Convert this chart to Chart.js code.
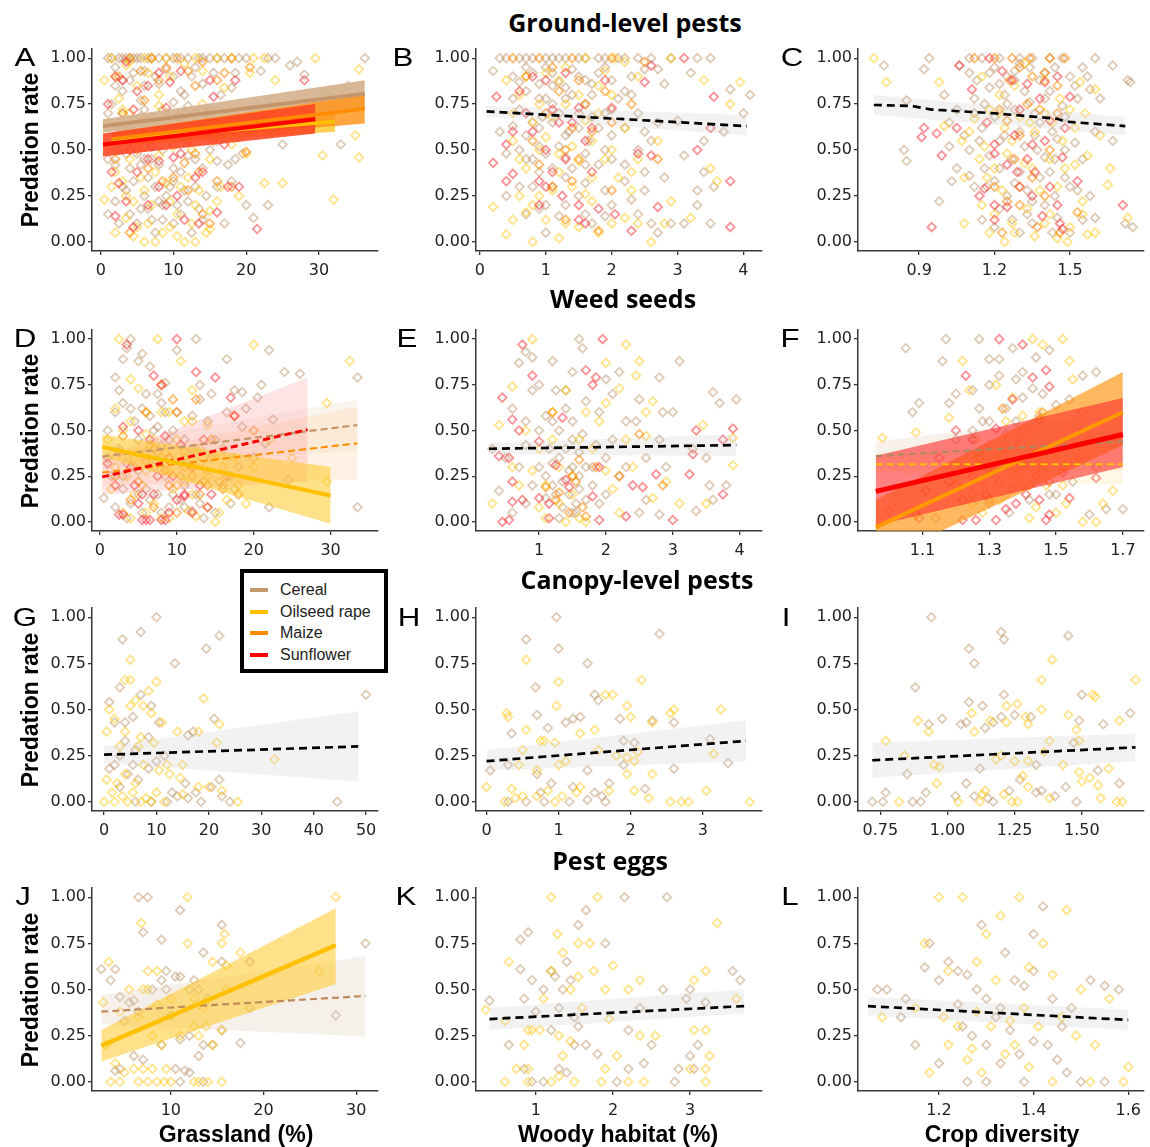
<!DOCTYPE html>
<html><head><meta charset="utf-8">
<script src="https://cdn.jsdelivr.net/npm/chart.js@4.4.1/dist/chart.umd.min.js"></script>
<style>
body{margin:0;width:1150px;height:1147px;position:relative;overflow:hidden;background:#fff;font-family:"Liberation Sans",Arial,sans-serif}
.t{position:absolute;white-space:nowrap;transform:translate(-50%,-50%);color:#000}
.row{font-family:"Open Sans",sans-serif;font-weight:700;font-size:25px}
.lab{font-size:25px;transform:translate(-50%,-50%) scaleX(1.25)}
.yt{font-weight:700;font-size:23px;transform:translate(-50%,-50%) rotate(-90deg)}
.xt{font-weight:700;font-size:23px}
canvas{position:absolute}
#leg{position:absolute;left:240px;top:569px;width:140px;height:96px;border:4px solid #000;background:#fff;z-index:5}
#leg div{position:absolute;left:36px;font-size:16px;color:#222;transform:translateY(-50%)}
#leg span{position:absolute;left:6px;width:18px;height:4px}
</style></head><body>
<script>
// ---------- DATA ----------
const yTicks = [0, 0.25, 0.5, 0.75, 1];
const yTickLabels = ["0.00", "0.25", "0.50", "0.75", "1.00"];
const crops = ["Cereal", "Oilseed rape", "Maize", "Sunflower"];

const xTicksA = [0, 10, 20, 30], xLabelsA = ["0", "10", "20", "30"];
const xTicksB = [0, 1, 2, 3, 4], xLabelsB = ["0", "1", "2", "3", "4"];
const xTicksC = [0.9, 1.2, 1.5], xLabelsC = ["0.9", "1.2", "1.5"];
const xTicksD = [0, 10, 20, 30], xLabelsD = ["0", "10", "20", "30"];
const xTicksE = [1, 2, 3, 4], xLabelsE = ["1", "2", "3", "4"];
const xTicksF = [1.1, 1.3, 1.5, 1.7], xLabelsF = ["1.1", "1.3", "1.5", "1.7"];
const xTicksG = [0, 10, 20, 30, 40, 50], xLabelsG = ["0", "10", "20", "30", "40", "50"];
const xTicksH = [0, 1, 2, 3], xLabelsH = ["0", "1", "2", "3"];
const xTicksI = [0.75, 1, 1.25, 1.5], xLabelsI = ["0.75", "1.00", "1.25", "1.50"];
const xTicksJ = [10, 20, 30], xLabelsJ = ["10", "20", "30"];
const xTicksK = [1, 2, 3], xLabelsK = ["1", "2", "3"];
const xTicksL = [1.2, 1.4, 1.6], xLabelsL = ["1.2", "1.4", "1.6"];

// Panel A: Grassland vs ground-level pests
const A_cereal = [[1,1],[2.5,1],[3.5,1],[4,1],[5,1],[6.5,1],[8,1],[10,1],[12,1],[13.5,1],[15,1],[17,1],[19,1],[23,1],[36.3,1],[2,0.95],[3,0.88],[4.5,0.92],[6,0.85],[7.5,0.9],[9,0.94],[11,0.82],[12.5,0.9],[14,0.86],[16.5,0.8],[18.5,0.92],[22,0.93],[26,0.96],[27,0.98],[28,0.91],[1.5,0.75],[3,0.7],[4,0.62],[5.5,0.77],[7,0.68],[8.5,0.72],[10.5,0.6],[12,0.74],[14.5,0.66],[16,0.55],[18,0.7],[21,0.64],[25,0.53],[33,0.53],[1,0.45],[2.5,0.5],[4,0.4],[5,0.48],[6.5,0.35],[8,0.42],[9.5,0.3],[11,0.38],[13,0.45],[15,0.5],[17.5,0.42],[19.5,0.48],[1,0.15],[2,0.22],[3.5,0.28],[5,0.1],[6.5,0.18],[7.5,0.05],[9,0.25],[10.5,0.2],[12,0.22],[13,0.3],[14.5,0.25],[21,0.13],[23,0.2],[3,0.82],[5.5,0.68],[9.5,0.55],[11.5,0.8],[6,0.45],[8.5,0.12],
 [1.5,1],[3,1],[4.5,1],[5.5,1],[7,1],[9,1],[11,1],[14,1],[16,1],[20,1],[24,1],[2,0.85],[4,0.88],[6,0.93],[8,0.86],[10,0.9],[13,0.95],[15.5,0.92],[18,0.84],[1,0.7],[2.5,0.62],[4.5,0.58],[6,0.72],[7.5,0.6],[9,0.66],[10,0.76],[11.5,0.7],[13,0.62],[15,0.72],[17,0.6],[19,0.57],[2,0.42],[3.5,0.48],[5.5,0.42],[7,0.45],[8.5,0.5],[10,0.4],[12,0.47],[14,0.4],[16,0.44],[18.5,0.45],[3,0.3],[4.5,0.33],[6,0.25],[7.5,0.3],[8.5,0.2],[10,0.33],[11.5,0.28],[13.5,0.18],[16,0.3],[18,0.33],[2.5,0.1],[4,0.15],[5.5,0.18],[7,0.12],[8,0.22],[10,0.1],[11,0.15],[12.5,0.05],[14,0.12],[17,0.1],[20,0.2],[27,0.72],[31,0.8],[34,0.85]];
const A_oilseed = [[0.5,0.88],[2,0.9],[3.5,0.96],[5,0.85],[6.5,0.92],[8,0.8],[9.5,0.9],[11.5,0.97],[14,0.93],[17,0.84],[20.5,0.92],[24,0.88],[35.5,0.94],[22.5,1],[16,1],[7,1],[29.5,1],[1,0.65],[3,0.72],[5,0.58],[7,0.62],[9,0.7],[11,0.66],[13,0.58],[16,0.62],[18.5,0.6],[20,0.48],[30.5,0.47],[35,0.58],[35.5,0.46],[0.5,0.23],[2,0.38],[3,0.33],[4.5,0.22],[6,0.28],[7.5,0.38],[9,0.32],[10.5,0.15],[12,0.35],[13.5,0.28],[15,0.17],[16.5,0.3],[19,0.25],[22.5,0.32],[25,0.32],[32,0.23],[3.5,0.13],[5,0.08],[6,0],[7.5,0],[8.5,0.05],[10.5,0.03],[11.5,0],[14.5,0.05],[15,0.07],
 [1.5,1],[4,0.98],[6,1],[9,1],[13,1],[18,1],[21,1],[2.5,0.78],[4,0.7],[6,0.66],[8,0.74],[10,0.6],[12,0.63],[14,0.75],[17,0.7],[2,0.5],[4,0.45],[6,0.52],[8,0.47],[10,0.52],[12.5,0.5],[15,0.45],[18,0.53],[1.5,0.3],[3.5,0.25],[5.5,0.35],[7,0.2],[9.5,0.22],[11,0.3],[13,0.2],[16,0.22],[2,0.05],[4.5,0.03],[6.5,0.1],[9.5,0.08],[12.5,0.1],[13,0.0]];
const A_maize = [[4,1],[7,1],[9,0.95],[12,0.93],[14,0.98],[16,0.88],[18,1],[20.5,0.95],[3,0.7],[6,0.77],[9.5,0.62],[12.5,0.57],[14.5,0.7],[20,0.49],[2,0.45],[5,0.5],[8.5,0.33],[11.5,0.43],[13.5,0.38],[16,0.33],[4,0.05],[15,0.1],
 [2.5,0.9],[5.5,0.93],[8,0.88],[10.5,1],[13,0.85],[17,0.92],[4,0.6],[7.5,0.65],[11,0.68],[13,0.48],[15.5,0.55],[6.5,0.4],[10,0.35],[12,0.28],[14,0.15],[18,0.3]];
const A_sunflower = [[2,0.9],[3.5,0.98],[5,0.82],[6.5,0.85],[9.5,0.87],[11,0.93],[15,0.88],[18.5,0.88],[28,0.88],[3,0.62],[4.5,0.72],[7,0.6],[9,0.73],[12,0.55],[15.5,0.79],[17,0.53],[1.5,0.38],[2.5,0.32],[5,0.38],[6.5,0.45],[8,0.44],[10,0.46],[14,0.38],[17.5,0.3],[19,0.3],[2,0.14],[4.5,0.08],[6.5,0.2],[9,0.2],[11.5,0.12],[13.5,0.1],[21.5,0.07],
 [1,0.75],[3,0.88],[5.5,0.65],[8,0.92],[10.5,0.68],[13,0.7],[16,0.65],[4,0.5],[7,0.52],[11,0.48],[13,0.35],[3.5,0.22],[8,0.3],[10.5,0.25],[16,0.16]];

// Panel B: Woody habitat vs ground-level pests
const B_cereal = [[0.3,1],[0.6,1],[0.8,1],[1,1],[1.2,1],[1.5,1],[1.8,1],[2.1,1],[2.4,1],[2.9,1],[3.3,1],[3.5,1],[0.2,0.93],[0.5,0.9],[0.7,0.95],[0.9,0.86],[1.1,0.92],[1.3,0.84],[1.5,0.9],[1.7,0.86],[1.9,0.95],[2.2,0.82],[2.5,0.94],[2.8,0.86],[3.2,0.92],[3.8,0.83],[4.1,0.8],[0.3,0.6],[0.6,0.72],[0.8,0.65],[1,0.78],[1.2,0.7],[1.4,0.8],[1.6,0.75],[1.8,0.62],[2,0.72],[2.3,0.8],[2.6,0.55],[3,0.66],[3.4,0.55],[3.7,0.6],[4,0.7],[0.4,0.48],[0.7,0.45],[0.9,0.52],[1.1,0.4],[1.3,0.46],[1.6,0.42],[1.9,0.5],[2.2,0.42],[2.5,0.38],[3.1,0.47],[3.4,0.38],[3.55,0.3],[0.4,0.25],[0.8,0.3],[1,0.2],[1.2,0.14],[1.5,0.25],[1.7,0.1],[2,0.2],[2.3,0.23],[2.6,0.1],[2.9,0.1],[3.1,0.1],[3.5,0.1],[1,0.05],[1.1,0.85],[1.35,0.6],[0.95,0.68],[1.65,0.55],
 [0.4,1],[0.7,1],[1.1,1],[1.3,1],[1.6,1],[1.9,1],[2.2,1],[2.6,1],[0.6,0.87],[0.8,0.92],[1.0,0.95],[1.2,0.87],[1.4,0.94],[1.6,0.88],[1.8,0.92],[2.0,0.88],[2.3,0.9],[2.7,0.94],[0.5,0.78],[0.7,0.82],[0.9,0.78],[1.1,0.75],[1.3,0.78],[1.5,0.7],[1.7,0.8],[1.9,0.7],[2.1,0.78],[2.4,0.7],[2.7,0.65],[0.5,0.63],[0.7,0.58],[0.9,0.62],[1.1,0.65],[1.3,0.58],[1.5,0.62],[1.7,0.68],[2.0,0.58],[2.2,0.62],[2.5,0.6],[0.6,0.5],[0.8,0.45],[1.0,0.48],[1.2,0.52],[1.4,0.4],[1.6,0.48],[1.8,0.42],[2.0,0.45],[2.4,0.5],[2.8,0.35],[0.6,0.3],[0.9,0.38],[1.1,0.3],[1.3,0.35],[1.6,0.32],[1.9,0.28],[2.2,0.33],[2.5,0.28],[3.3,0.28],[0.7,0.15],[0.9,0.18],[1.3,0.2],[1.6,0.15],[1.9,0.14],[2.4,0.15],[2.7,0.05],[3.3,0.2]];
const B_oilseed = [[0.2,0.19],[0.4,0.04],[0.5,0.12],[0.7,0.16],[0.9,0.25],[1,0.12],[1.3,0.1],[1.5,0.08],[1.6,0.26],[1.8,0.05],[2.2,0.13],[2.4,0.1],[2.6,0],[2.8,0.1],[3.2,0.13],[0.8,0],[0.5,0.55],[0.7,0.4],[1,0.57],[1.2,0.38],[1.4,0.52],[1.7,0.55],[1.9,0.45],[2.1,0.35],[2.4,0.45],[2.7,0.55],[2.9,0.22],[3.5,0.4],[3.6,0.33],[0.6,0.8],[0.9,0.75],[1.2,0.88],[1.5,0.8],[1.8,0.85],[2,0.8],[2.4,0.9],[2.9,1],[3.4,0.88],[3.95,0.87],[3.8,0.75],[1.6,1],[2.05,1],
 [0.4,0.88],[0.7,0.9],[1.0,0.92],[1.3,0.95],[1.9,0.93],[2.2,0.98],[0.5,0.7],[0.8,0.65],[1.1,0.68],[1.3,0.75],[1.6,0.66],[1.8,0.7],[2.2,0.62],[0.6,0.45],[0.9,0.5],[1.2,0.48],[1.5,0.44],[1.7,0.35],[2.0,0.5],[2.3,0.38],[0.6,0.25],[0.8,0.2],[1.1,0.28],[1.4,0.3],[1.7,0.22],[2.0,0.1],[2.3,0.28],[1.2,0.02]];
const B_maize = [[0.5,1],[0.9,1],[1.4,1],[2,1],[2.5,0.98],[1.2,0.82],[1.6,0.75],[2.3,0.75],[0.8,0.55],[1.3,0.5],[1.7,0.6],[2.7,0.45],[1.1,0.3],[1.4,0.33],[2,0.28],[1.8,0.06],
 [0.7,0.9],[1.1,0.95],[1.5,0.88],[1.9,0.82],[1.0,0.7],[1.4,0.62],[2.0,0.65],[0.9,0.42],[1.5,0.45],[1.3,0.12]];
const B_sunflower = [[0.25,0.79],[0.6,0.82],[0.8,0.9],[1,0.88],[1.3,0.92],[1.9,0.88],[2.5,0.87],[2.6,0.96],[3.1,1],[3.55,0.79],[0.2,0.43],[0.4,0.53],[0.5,0.6],[0.7,0.7],[1,0.5],[1.2,0.65],[1.5,0.73],[1.7,0.62],[2,0.73],[2.4,0.48],[2.6,0.47],[3.3,0.5],[3.5,0.62],[0.4,0.33],[0.5,0.37],[0.9,0.33],[1,0.3],[1.25,0.25],[1.5,0.2],[1.7,0.38],[1.8,0.18],[2.05,0.15],[2.7,0.19],[1.5,0.12],[2.3,0.06],[3.8,0.33],[3.8,0.08],
 [0.8,0.6],[1.1,0.72],[1.4,0.65],[1.6,0.55],[1.3,0.45],[1.1,0.38],[0.9,0.2],[1.6,0.1]];

// Panel C: Crop diversity vs ground-level pests
const C_cereal = [[0.76,0.96],[0.94,1],[0.92,0.94],[1.06,0.96],[1.1,0.92],[1.2,0.95],[1.25,0.9],[1.3,0.97],[1.4,0.92],[1.5,0.9],[1.6,1],[1.55,0.95],[1.67,0.96],[1.74,0.87],[0.85,0.77],[1.0,0.8],[1.05,0.72],[1.12,0.78],[1.18,0.84],[1.25,0.75],[1.32,0.82],[1.4,0.78],[1.47,0.74],[1.58,0.83],[1.62,0.78],[1.73,0.88],[0.84,0.5],[0.85,0.44],[1.02,0.52],[1.08,0.58],[1.15,0.62],[1.22,0.55],[1.3,0.6],[1.37,0.5],[1.45,0.56],[1.52,0.54],[1.6,0.6],[1.67,0.55],[0.98,0.22],[1.03,0.33],[1.1,0.36],[1.17,0.3],[1.22,0.4],[1.28,0.32],[1.35,0.22],[1.42,0.38],[1.5,0.3],[1.58,0.25],[1.6,0.13],[1.2,0.08],[1.27,0.12],[1.35,0.1],[1.45,0.13],[1.5,0.05],[1.75,0.08],[1.72,0.1],[1.28,0.88],[1.36,0.7],[1.44,0.45],
 [1.1,1],[1.15,1],[1.22,1],[1.3,1],[1.35,1],[1.42,1],[1.47,1],[1.13,0.88],[1.18,0.92],[1.22,0.86],[1.28,0.93],[1.34,0.95],[1.38,0.88],[1.44,0.95],[1.52,0.85],[1.57,0.9],[1.12,0.7],[1.16,0.75],[1.2,0.68],[1.24,0.8],[1.28,0.72],[1.34,0.76],[1.38,0.65],[1.42,0.82],[1.48,0.68],[1.53,0.78],[1.1,0.5],[1.14,0.55],[1.18,0.47],[1.24,0.58],[1.27,0.45],[1.32,0.52],[1.36,0.58],[1.4,0.46],[1.43,0.6],[1.48,0.5],[1.55,0.45],[1.12,0.3],[1.16,0.4],[1.2,0.33],[1.25,0.25],[1.3,0.38],[1.33,0.28],[1.38,0.35],[1.44,0.25],[1.48,0.35],[1.53,0.28],[1.15,0.12],[1.22,0.18],[1.3,0.05],[1.33,0.15],[1.4,0.2],[1.43,0.05],[1.55,0.12],[1.05,0.4],[1.02,0.65]];
const C_oilseed = [[0.72,1],[0.77,0.87],[0.98,0.87],[1.0,0.63],[1.07,0.55],[1.12,0.67],[1.18,0.72],[1.24,0.62],[1.3,0.68],[1.36,0.6],[1.43,0.65],[1.5,0.72],[1.56,0.7],[1.62,0.58],[1.66,0.4],[1.6,0.83],[1.54,0.87],[1.32,0.97],[1.08,0.35],[1.14,0.45],[1.2,0.4],[1.25,0.48],[1.32,0.43],[1.38,0.28],[1.45,0.3],[1.52,0.42],[1.57,0.47],[1.65,0.31],[1.73,0.13],[1.08,0.1],[1.15,0.2],[1.2,0.15],[1.24,0],[1.28,0.05],[1.33,0.18],[1.4,0.1],[1.45,0.02],[1.5,0.08],[1.57,0.04],[1.49,0],
 [1.15,0.9],[1.22,0.8],[1.28,0.85],[1.4,0.88],[1.46,0.78],[1.1,0.6],[1.16,0.52],[1.22,0.7],[1.27,0.55],[1.34,0.65],[1.4,0.7],[1.47,0.55],[1.52,0.62],[1.17,0.35],[1.23,0.28],[1.3,0.3],[1.35,0.4],[1.42,0.45],[1.48,0.4],[1.55,0.22],[1.18,0.05],[1.27,0.1],[1.36,0.03],[1.42,0.15],[1.55,0.15],[1.6,0.05]];
const C_maize = [[1.12,1],[1.2,1],[1.27,1],[1.34,1],[1.42,1],[1.48,1],[1.26,0.88],[1.35,0.9],[1.45,0.85],[1.25,0.66],[1.3,0.58],[1.38,0.72],[1.42,0.5],[1.2,0.3],[1.3,0.2],[1.37,0.08],[1.46,0.05],[1.53,0.16],[1.23,0.05],
 [1.3,0.95],[1.4,0.92],[1.22,0.72],[1.33,0.75],[1.45,0.7],[1.28,0.45],[1.35,0.35],[1.25,0.22],[1.4,0.25]];
const C_sunflower = [[1.06,0.96],[1.18,1],[1.23,0.93],[1.27,0.88],[1.33,0.86],[1.4,0.87],[1.45,0.9],[1.5,0.79],[1.11,0.83],[0.92,0.62],[0.91,0.57],[0.97,0.59],[1.05,0.62],[1.17,0.65],[1.2,0.53],[1.28,0.58],[1.35,0.53],[1.42,0.66],[1.48,0.62],[0.99,0.47],[1.2,0.48],[1.29,0.38],[1.36,0.38],[1.42,0.3],[1.47,0.46],[1.53,0.33],[1.14,0.25],[1.16,0.29],[1.2,0.2],[1.2,0.12],[1.25,0.19],[1.39,0.14],[1.46,0.1],[1.47,0.07],[0.95,0.08],[1.71,0.2],
 [1.3,0.72],[1.38,0.78],[1.25,0.42],[1.33,0.45],[1.4,0.55],[1.3,0.3],[1.45,0.2],[1.35,0.25]];

// Panel D: Grassland vs weed seeds
const D_cereal = [[2,0.79],[3,0.89],[3.5,0.95],[4,1],[5,0.88],[5.5,0.92],[6.5,0.85],[7.5,0.7],[8.5,0.76],[10,0.94],[12.5,1],[13,0.75],[14.5,0.7],[16.5,0.89],[17.5,0.72],[18.5,0.71],[21,0.75],[22,0.94],[24,0.82],[26,0.81],[33.5,0.79],[20.5,0.68],[2,0.6],[3,0.65],[4.5,0.55],[5.5,0.62],[6.5,0.58],[7.5,0.52],[8.5,0.6],[9.5,0.5],[11,0.45],[12,0.58],[13,0.67],[15,0.45],[16.5,0.6],[18.5,0.52],[22.5,0.56],[1,0.35],[2.5,0.4],[3.5,0.32],[5,0.28],[6,0.38],[7,0.3],[8,0.42],[9,0.35],[10.5,0.25],[12,0.3],[13.5,0.22],[14.5,0.35],[16,0.2],[17.5,0.18],[24.5,0.23],[0.5,0.13],[2,0.08],[3,0.18],[4,0.1],[5.5,0.05],[6.5,0.12],[7.5,0.15],[9,0.08],[10.5,0.12],[12,0.06],[13,0.1],[15,0.05],[17,0.1],[22,0.08],[33.5,0.08],
 [1,0.5],[2.5,0.72],[4,0.62],[5,0.45],[6,0.7],[7,0.5],[8,0.65],[9,0.45],[10,0.6],[11,0.38],[12,0.4],[13,0.32],[14,0.55],[16,0.4],[1.5,0.25],[3,0.25],[4.5,0.3],[6,0.18],[7.5,0.38],[8.5,0.25],[9.5,0.15],[11,0.2],[12.5,0.15],[14,0.28],[15.5,0.22],[18,0.3],[20,0.35],[3.5,0.02],[5,0.15],[8,0.05],[11,0.08],[13.5,0.02],[17,0.25],[19,0.62],[21.5,0.43]];
const D_oilseed = [[2.5,1],[7.5,1],[10.5,0.88],[12,0.72],[14,0.53],[20,0.97],[32.5,0.88],[29.5,0.65],[4,0.78],[5,0.73],[6,0.6],[8,0.6],[11,0.55],[1,0.45],[3,0.5],[4.5,0.35],[6.5,0.42],[8.5,0.38],[10,0.45],[12.5,0.4],[15,0.35],[20,0.3],[22,0.45],[25,0.35],[29.5,0.22],[1.5,0.18],[3,0.05],[4.5,0.15],[5.5,0.2],[7,0.1],[8,0.02],[9.5,0.18],[11,0.22],[12.5,0.03],[14,0.08],[15,0.0],[16.5,0.12],[18,0.2],[19,0.1],
 [2,0.3],[3.5,0.25],[5,0.38],[6,0.28],[7,0.45],[8,0.35],[9,0.28],[10,0.2],[11,0.35],[12,0.15],[13,0.4],[14,0.25],[16,0.3],[2,0.62],[4,0.55],[6,0.48],[9,0.6],[12,0.55],[4,0.02],[6,0.05],[9,0.02],[11.5,0.06],[15.5,0.05],[17.5,0.35]];
const D_maize = [[8,0.75],[9.5,0.67],[12.5,0.67],[17.5,0.58],[3,0.47],[6,0.33],[8.5,0.28],[11,0.3],[14,0.2],[16,0.18],[18,0.15],[4,0.12],[7,0.08],[10,0.05],[13,0.15],[20,0.5],
 [2,0.25],[5,0.22],[7,0.4],[9,0.2],[10,0.6],[12,0.25],[14.5,0.45],[6,0.6]];
const D_sunflower = [[3.5,0.97],[10,1],[12.5,0.82],[15,0.79],[17,0.68],[7,0.8],[17.5,0.58],[8.5,0.47],[5,0.5],[3,0.52],[8,0.75],[1,0.32],[2.5,0.38],[4.5,0.2],[5.5,0.15],[6.5,0.45],[7.5,0.25],[9,0.35],[11,0.14],[13,0.2],[14,0.08],[2.5,0.04],[3,0.04],[5.5,0.01],[6,0.01],[6.5,0.01],[8,0.01],[8.5,0.01],[10,0.12],[11,0.15],[12,0.05],[16.5,0.25],[10.5,0.42],
 [2,0.2],[4,0.3],[7,0.15],[9.5,0.25],[12,0.3],[13.5,0.45],[5,0.1],[9,0.05],[14.5,0.15]];

// Panel E: Woody habitat vs weed seeds
const E_cereal = [[0.7,0.87],[0.8,0.93],[0.9,0.9],[1.2,0.88],[1.5,0.82],[1.6,1],[1.65,0.95],[2.0,0.78],[2.2,0.82],[2.8,0.79],[3.1,0.88],[3.0,0.6],[0.6,0.62],[0.9,0.72],[1.1,0.58],[1.25,0.72],[1.4,0.62],[1.5,0.55],[1.7,0.66],[1.9,0.6],[2.1,0.7],[2.3,0.55],[2.5,0.67],[2.85,0.6],[3.6,0.71],[3.7,0.65],[3.95,0.67],[0.3,0.4],[0.5,0.35],[0.8,0.42],[1.0,0.3],[1.15,0.4],[1.3,0.35],[1.45,0.28],[1.6,0.38],[1.8,0.3],[2.0,0.35],[2.3,0.3],[2.6,0.35],[2.8,0.45],[3.3,0.4],[3.55,0.2],[3.8,0.2],[0.4,0.17],[0.6,0.05],[0.8,0.1],[1.1,0.13],[1.2,0.2],[1.35,0.08],[1.5,0.05],[1.6,0.18],[1.7,0.12],[1.9,0.1],[2.5,0.05],[2.6,0.12],[2.8,0.04],[3.35,0.06],[3.6,0.12],
 [0.7,0.3],[0.9,0.2],[1.0,0.5],[1.1,0.25],[1.2,0.32],[1.25,0.15],[1.3,0.5],[1.35,0.22],[1.4,0.4],[1.45,0.15],[1.5,0.3],[1.55,0.1],[1.6,0.25],[1.65,0.48],[1.7,0.3],[1.8,0.2],[1.85,0.42],[2.0,0.15],[2.1,0.45],[2.2,0.25],[1.0,0.75],[1.2,0.55],[1.4,0.72],[0.8,0.55],[1.5,0.45],[1.3,0.02],[1.55,0.05],[2.45,0.55],[2.9,0.3],[3.5,0.35]];
const E_oilseed = [[0.9,1],[2.3,0.97],[2.5,0.88],[2.0,0.87],[0.6,0.74],[1.4,0.72],[2.0,0.65],[2.2,0.73],[2.45,0.8],[2.7,0.66],[0.4,0.53],[0.8,0.5],[1.2,0.6],[1.9,0.55],[2.3,0.45],[2.6,0.47],[3.45,0.53],[3.9,0.46],[0.3,0.1],[0.6,0.3],[0.9,0.28],[1.1,0.2],[1.3,0.1],[1.5,0.25],[1.7,0],[2.1,0.18],[2.4,0.3],[2.7,0.13],[2.9,0.22],[3.1,0.1],[3.5,0.1],[3.9,0.31],[1.0,0.08],[1.4,0],
 [0.7,0.2],[1.0,0.4],[1.2,0.45],[1.3,0.3],[1.5,0.15],[1.6,0.45],[1.8,0.4],[2.0,0.28],[2.2,0.05],[1.1,0.02],[1.6,0.02],[2.6,0.6],[1.7,0.6]];
const E_maize = [[1.2,0.6],[2.5,0.48],[1.3,0.16],[1.55,0.22],[1.85,0.3],[2.2,0.25],[1.65,0.08],[2.85,0.2],[1.1,0.19],[1.6,0.34],[1.25,0.12],[1.45,0.05],[1.7,0.03],[1.5,0.25]];
const E_sunflower = [[0.45,0.68],[0.75,0.97],[0.9,0.8],[1.95,1],[1.7,0.83],[1.8,0.75],[1.85,0.79],[0.6,0.56],[0.7,0.5],[1.35,0.57],[1.0,0.44],[0.4,0.36],[0.55,0.35],[0.6,0.22],[0.6,0.11],[0.75,0.12],[1.25,0.31],[1.4,0.23],[1.45,0.19],[1.8,0.14],[1.9,0.3],[1.0,0.13],[1.15,0.1],[2.3,0.03],[2.55,0.19],[2.4,0.2],[2.75,0.26],[3.0,0.01],[3.25,0.26],[3.35,0.5],[3.75,0.45],[3.9,0.51],[3.75,0.15],[3.3,0.37],[0.45,0],[0.55,0.01],[1.15,0.02],[1.9,0.01]];

// Panel F: Crop diversity vs weed seeds
const F_cereal = [[1.05,0.95],[1.16,0.88],[1.17,1],[1.27,1],[1.3,0.89],[1.33,0.89],[1.37,0.95],[1.4,0.82],[1.44,0.9],[1.48,0.94],[1.58,0.8],[1.62,0.82],[1.09,0.65],[1.07,0.6],[1.2,0.7],[1.25,0.72],[1.3,0.75],[1.33,0.8],[1.38,0.78],[1.43,0.73],[1.46,0.7],[1.5,0.64],[1.54,0.67],[1.58,0.6],[1.2,0.45],[1.25,0.5],[1.28,0.55],[1.3,0.42],[1.35,0.48],[1.39,0.45],[1.42,0.5],[1.47,0.4],[1.52,0.42],[1.57,0.35],[1.62,0.3],[1.2,0.2],[1.25,0.15],[1.3,0.1],[1.33,0.22],[1.37,0.18],[1.42,0.12],[1.48,0.15],[1.55,0.22],[1.6,0.04],[1.65,0.07],[1.7,0.07],[1.14,0.02],[1.0,0.06],
 [1.22,0.3],[1.27,0.38],[1.3,0.28],[1.34,0.35],[1.36,0.05],[1.4,0.32],[1.44,0.38],[1.46,0.28],[1.5,0.15],[1.52,0.3],[1.56,0.5],[1.6,0.45],[1.27,0.62],[1.35,0.62],[1.4,0.68],[1.45,0.58],[1.18,0.65],[1.3,0.55],[1.38,0.55]];
const F_oilseed = [[0.98,0.46],[1.43,1],[1.46,0.97],[1.52,1],[1.54,0.88],[1.22,0.88],[1.24,0.72],[1.32,0.75],[1.37,0.68],[1.4,0.58],[1.55,0.78],[1.18,0.57],[1.08,0.49],[1.26,0.45],[1.32,0.35],[1.36,0.3],[1.45,0.32],[1.5,0.38],[1.56,0.35],[1.2,0.25],[1.28,0.22],[1.35,0.15],[1.4,0.2],[1.44,0.08],[1.5,0.05],[1.53,0.1],[1.58,0],[1.62,0],[1.67,0.17],[1.64,0.1],[1.25,0.1],
 [1.23,0.33],[1.3,0.3],[1.33,0.12],[1.38,0.4],[1.42,0.42],[1.47,0.2],[1.52,0.2],[1.45,0.6],[1.35,0.55],[1.28,0.05],[1.42,0.02]];
const F_maize = [[1.34,0.62],[1.46,0.6],[1.27,0.35],[1.38,0.26],[1.3,0.12],[1.42,0.2],[1.48,0.22],[1.08,0.04]];
const F_sunflower = [[1.33,1],[1.4,0.97],[1.23,0.8],[1.43,0.79],[1.37,0.67],[1.47,0.83],[1.48,0.74],[1.2,0.5],[1.32,0.51],[1.45,0.56],[1.25,0.45],[1.15,0.35],[1.11,0.17],[1.18,0.22],[1.22,0.12],[1.29,0.15],[1.35,0.07],[1.38,0.1],[1.41,0.15],[1.44,0.25],[1.48,0.04],[1.52,0.27],[1.22,0.01],[1.26,0.01],[1.32,0.01],[1.47,0.01],[1.62,0.24],[1.54,0.13],[1.09,0.02],
 [1.3,0.3],[1.35,0.4],[1.25,0.25],[1.4,0.32],[1.45,0.12]];

// Panel G: Grassland vs canopy-level pests
const G_cereal = [[10,1],[22,0.9],[7,0.92],[3.5,0.88],[19.5,0.83],[13.5,0.75],[3,0.62],[7,0.58],[1,0.54],[5.5,0.46],[9,0.52],[2,0.43],[4,0.43],[50,0.58],[21,0.45],[17,0.38],[16,0.36],[10.5,0.43],[8.5,0.35],[4,0.33],[6,0.28],[1,0.18],[2,0.2],[3,0.25],[4.5,0.15],[5.5,0.2],[6.5,0.12],[8.5,0.18],[10,0.22],[11.5,0.25],[13,0.05],[14,0.03],[15.5,0.1],[16,0.02],[17.5,0.05],[18.5,0],[20.5,0.08],[22,0.12],[22.5,0.03],[24,0],[44.5,0],[3,0.08],[6,0],[9,0],[12,0]];
const G_oilseed = [[5,0.77],[4,0.66],[5,0.66],[10,0.65],[19,0.56],[6,0.55],[1,0.5],[2,0.45],[5,0.52],[7.5,0.52],[8.5,0.6],[9,0.48],[11,0.43],[0.5,0.38],[3,0.3],[4,0.38],[6.5,0.3],[7,0.35],[9.5,0.32],[14,0.38],[18,0.38],[21.5,0.32],[22,0.42],[32.5,0.23],[0.5,0.12],[1.5,0.05],[2.5,0.1],[3.5,0.03],[4.5,0],[5.5,0.05],[7,0],[8,0.02],[9,0],[10,0.05],[11.5,0],[12.5,0.15],[14.5,0.13],[15,0.04],[18,0.08],[20,0.08],[22.5,0.06],[25.5,0],[0,0],[2,0],[4,0.15],[6,0.1],[7.5,0.2],[10.5,0.17],[12,0.2],[15,0.2]];

// Panel H: Woody habitat vs canopy-level pests
const H_cereal = [[0.97,1],[2.4,0.91],[0.55,0.88],[1.0,0.83],[1.4,0.75],[0.68,0.62],[1.5,0.58],[1.55,0.55],[0.7,0.47],[1.1,0.43],[1.2,0.45],[1.3,0.46],[0.85,0.4],[0.35,0.37],[1.85,0.45],[2.3,0.44],[2.6,0.43],[1.9,0.33],[0.05,0.17],[0.3,0.2],[0.7,0.15],[0.9,0.1],[1.2,0.08],[1.4,0.17],[1.5,0.05],[1.6,0.03],[1.7,0.1],[2.05,0.32],[2.2,0.07],[2.6,0.18],[3.35,0.21],[3.1,0.34],[0.3,0],[0.55,0],[0.75,0.05],[0.8,0],[1.15,0],[1.4,0.01],[1.65,0],[1.9,0.2]];
const H_oilseed = [[0.55,0.77],[1.0,0.65],[2.15,0.66],[1.65,0.58],[1.75,0.58],[0.28,0.48],[0.3,0.46],[0.55,0.39],[0.97,0.52],[1.95,0.52],[2.0,0.46],[2.3,0.43],[2.55,0.48],[2.6,0.5],[3.25,0.5],[1.5,0.39],[1.3,0.37],[0.75,0.33],[0.8,0.33],[0.95,0.32],[0.5,0.28],[1.55,0.28],[1.95,0.24],[2.05,0.22],[2.1,0.27],[3.15,0.26],[0.45,0.2],[0.7,0.17],[1.0,0.2],[1.1,0.22],[1.8,0.25],[1.95,0.15],[0.0,0.08],[0.35,0.07],[0.4,0.02],[0.5,0.03],[0.7,0.03],[0.85,0.06],[1.05,0.03],[1.25,0.05],[1.3,0.08],[1.7,0.06],[2.05,0.06],[2.25,0.02],[2.3,0.15],[0.25,0],[0.95,0],[2.55,0],[2.7,0],[2.8,0],[3.05,0.06],[3.65,0]];

// Panel I: Crop diversity vs canopy-level pests
const I_cereal = [[0.94,1],[1.2,0.92],[1.21,0.88],[1.45,0.9],[1.08,0.83],[1.1,0.75],[0.88,0.62],[1.08,0.54],[1.13,0.52],[1.21,0.58],[1.31,0.46],[1.25,0.47],[1.2,0.46],[1.17,0.43],[1.05,0.42],[1.07,0.43],[0.98,0.45],[0.93,0.42],[1.5,0.58],[1.47,0.32],[1.49,0.44],[1.58,0.42],[1.68,0.48],[0.85,0.15],[1.07,0.1],[1.1,0.03],[1.15,0.02],[1.17,0.0],[1.23,0.06],[1.27,0.12],[1.33,0.2],[1.35,0.06],[1.4,0.03],[1.44,0.08],[1.56,0.17],[1.64,0.1],[0.72,0],[0.76,0],[0.77,0.05],[0.87,0],[0.9,0],[0.92,0.05],[1.03,0.03],[1.48,0],[1.33,0.05],[1.12,0.18],[1.14,0.4]];
const I_oilseed = [[1.39,0.77],[1.35,0.66],[1.7,0.66],[1.22,0.52],[1.26,0.53],[1.29,0.46],[1.35,0.5],[1.45,0.47],[1.54,0.58],[1.55,0.57],[1.64,0.44],[0.89,0.44],[0.93,0.38],[1.09,0.48],[1.1,0.38],[1.16,0.44],[1.22,0.43],[1.3,0.42],[1.38,0.33],[1.48,0.39],[1.49,0.33],[0.77,0.33],[0.84,0.25],[0.95,0.2],[0.97,0.19],[1.2,0.25],[1.25,0.22],[1.28,0.14],[1.3,0.22],[1.36,0.27],[1.43,0.2],[1.49,0.16],[1.53,0.13],[1.6,0.18],[0.96,0.1],[1.14,0.06],[1.13,0.04],[1.21,0.04],[1.24,0],[1.3,0.08],[1.38,0.02],[1.5,0.11],[1.56,0.09],[1.57,0.02],[1.63,0],[1.65,0],[0.82,0],[1.04,0.0],[1.12,0],[1.26,0],[1.18,0.23]];

// Panel J: Grassland vs pest eggs
const J_cereal = [[6.5,1],[7.5,1],[11,0.93],[7,0.81],[9,0.77],[15.5,0.85],[13.5,0.7],[15.5,0.65],[18.5,0.65],[2.5,0.61],[4,0.61],[3.5,0.55],[4.5,0.46],[5.5,0.43],[6,0.44],[8,0.5],[9,0.55],[9.5,0.6],[10.5,0.57],[11,0.57],[12,0.5],[12.5,0.55],[13,0.5],[14,0.45],[9.5,0.5],[31,0.75],[27.8,0.36],[18.5,0.4],[17.5,0.21],[12,0.25],[13.5,0.2],[14.5,0.2],[15.5,0.28],[11,0.23],[10,0.36],[6.5,0.38],[5,0.33],[6,0.14],[7,0.12],[4.5,0.07],[4,0.06],[10.5,0.07],[11.5,0.06],[12,0.05],[11,0.0],[13.5,0],[9,0.2],[13,0.14]];
const J_oilseed = [[11.8,1],[27.8,1],[6.8,0.86],[11.8,0.75],[15.5,0.75],[15.8,0.8],[3.3,0.65],[7.5,0.6],[8.5,0.6],[16,0.63],[17.5,0.7],[14.5,0.65],[2.7,0.43],[5.5,0.5],[7,0.5],[7.5,0.5],[10,0.45],[12.5,0.45],[13.5,0.4],[16,0.5],[26,0.6],[8.5,0.42],[4.5,0.38],[6.5,0.35],[8,0.25],[9,0.2],[11,0.25],[12.5,0.3],[13,0.25],[13.8,0.3],[14.5,0.2],[15.5,0.28],[3,0.2],[4,0.1],[5,0.05],[6,0.07],[7,0.07],[8,0.07],[9.5,0.07],[3.5,0],[4.5,0],[6.5,0],[7.5,0],[8.5,0],[9.3,0],[10,0],[12.5,0],[13,0],[14,0],[15.5,0]];

// Panel K: Woody habitat vs pest eggs
const K_cereal = [[2.15,1],[2.7,1],[1.55,0.85],[1.65,0.93],[0.8,0.77],[0.9,0.81],[1.4,0.65],[1.2,0.6],[1.9,0.75],[0.8,0.61],[1.25,0.57],[1.35,0.5],[1.45,0.55],[1.1,0.5],[0.85,0.45],[0.95,0.55],[0.4,0.44],[0.65,0.2],[1.2,0.28],[1.5,0.2],[1.55,0.3],[1.65,0.2],[1.8,0.15],[2.2,0.28],[2.35,0.4],[2.5,0.2],[2.65,0.5],[2.95,0.45],[3.0,0.5],[3.0,0.14],[3.1,0.2],[3.2,0.43],[3.55,0.6],[3.65,0.55],[2.2,0.07],[2.4,0.1],[2.85,0.07],[3.05,0.07],[1.3,0.07],[1.4,0.05],[0.85,0.07],[0.95,0],[1.1,0],[2.05,0],[2.8,0],[1.0,0.38],[1.3,0.4],[1.5,0.35]];
const K_oilseed = [[1.2,1],[1.8,1],[3.35,0.86],[1.28,0.8],[1.35,0.7],[1.7,0.75],[1.55,0.75],[1.2,0.6],[2.0,0.63],[3.2,0.6],[0.65,0.65],[1.1,0.45],[1.45,0.5],[1.55,0.57],[1.75,0.6],[2.2,0.5],[2.35,0.55],[3.05,0.55],[3.6,0.45],[1.9,0.5],[0.35,0.39],[0.6,0.33],[0.9,0.28],[0.95,0.28],[1.05,0.28],[1.3,0.25],[1.45,0.22],[1.6,0.4],[1.95,0.34],[2.05,0.14],[2.35,0.25],[2.55,0.25],[3.05,0.28],[3.2,0.28],[3.25,0.14],[0.75,0.07],[0.85,0.2],[0.9,0.07],[1.35,0.14],[1.9,0.07],[3.0,0.07],[3.2,0.07],[0.6,0],[0.9,0],[1.2,0],[1.5,0],[1.85,0],[2.2,0],[2.4,0],[3.2,0],[1.3,0.03]];

// Panel L: Crop diversity vs pest eggs
const L_cereal = [[1.07,0.5],[1.09,0.5],[1.13,0.45],[1.17,0.62],[1.2,0.55],[1.22,0.65],[1.24,0.6],[1.26,0.58],[1.28,0.5],[1.3,0.45],[1.33,0.4],[1.36,0.55],[1.38,0.52],[1.4,0.6],[1.42,0.95],[1.44,0.45],[1.46,0.3],[1.48,0.4],[1.52,0.55],[1.55,0.52],[1.58,0.5],[1.25,0.3],[1.27,0.25],[1.3,0.2],[1.33,0.1],[1.35,0.28],[1.37,0.15],[1.4,0.22],[1.43,0.2],[1.45,0.12],[1.47,0.05],[1.2,0.1],[1.15,0.2],[1.12,0.35],[1.24,0.42],[1.32,0.35],[1.26,0.0],[1.3,0.0],[1.38,0.0],[1.5,0.0],[1.55,0],[1.18,0.75],[1.29,0.85],[1.34,0.7],[1.4,0.8]];
const L_oilseed = [[1.2,1],[1.25,1],[1.37,1],[1.47,0.93],[1.33,0.9],[1.17,0.75],[1.3,0.8],[1.42,0.75],[1.22,0.6],[1.28,0.65],[1.32,0.55],[1.39,0.62],[1.44,0.58],[1.5,0.5],[1.56,0.45],[1.6,0.08],[1.59,0.0],[1.08,0.35],[1.15,0.4],[1.21,0.35],[1.24,0.3],[1.28,0.38],[1.31,0.3],[1.35,0.33],[1.38,0.4],[1.41,0.3],[1.46,0.35],[1.49,0.25],[1.53,0.2],[1.22,0.2],[1.26,0.12],[1.29,0.05],[1.34,0.15],[1.39,0.08],[1.44,0],[1.52,0],[1.18,0.05],[1.27,0.18],[1.36,0.2]];

// Fitted lines [x, y] and confidence bands [x, low, high]
const A_fitCereal = [[0.3,0.63],[36.3,0.807]], A_bandCereal = [[0.3,0.595,0.668],[36.3,0.728,0.88]];
const A_fitOilseed = [[1.5,0.555],[32.2,0.655]], A_bandOilseed = [[1.5,0.52,0.59],[32.2,0.6,0.71]];
const A_fitMaize = [[1.5,0.56],[36.3,0.725]], A_bandMaize = [[1.5,0.53,0.595],[36.3,0.644,0.8]];
const A_fitSunflower = [[0.3,0.53],[29.5,0.668]], A_bandSunflower = [[0.3,0.465,0.59],[29.5,0.59,0.75]];
const B_fit = [[0.1,0.71],[4.05,0.63]], B_band = [[0.1,0.68,0.74],[4.05,0.58,0.69]];
const C_fit = [[0.72,0.745],[0.87,0.74],[0.95,0.72],[1.2,0.7],[1.45,0.67],[1.48,0.655],[1.72,0.63]], C_band = [[0.72,0.69,0.8],[1.72,0.58,0.68]];
const D_fitCereal = [[0.3,0.357],[33.5,0.53]], D_bandCereal = [[0.3,0.3,0.42],[33.5,0.39,0.67]];
const D_fitOilseed = [[0.3,0.41],[30,0.144]], D_bandOilseed = [[0.3,0.357,0.477],[30,-0.01,0.3]];
const D_fitMaize = [[0.3,0.27],[33.5,0.43]], D_bandMaize = [[0.3,0.2,0.35],[33.5,0.23,0.63]];
const D_fitSunflower = [[0.3,0.246],[27,0.505]], D_bandSunflower = [[0.3,0.15,0.35],[27,0.22,0.79]];
const E_fit = [[0.25,0.4],[3.95,0.42]], E_band = [[0.25,0.37,0.43],[3.95,0.36,0.48]];
const F_fitCereal = [[0.96,0.36],[1.7,0.44]], F_bandCereal = [[0.96,0.29,0.44],[1.7,0.28,0.6]];
const F_fitOilseed = [[0.96,0.315],[1.7,0.315]], F_bandOilseed = [[0.96,0.27,0.37],[1.7,0.2,0.43]];
const F_fitMaize = [[0.96,-0.03],[1.7,0.6]], F_bandMaize = [[0.96,-0.22,0.12],[1.7,0.42,0.82]];
const F_fitSunflower = [[0.96,0.167],[1.7,0.478]], F_bandSunflower = [[0.96,-0.02,0.362],[1.7,0.3,0.678]];
const G_fit = [[0,0.255],[48.5,0.3]], G_band = [[0,0.21,0.3],[48.5,0.11,0.49]];
const H_fit = [[0,0.22],[3.6,0.33]], H_band = [[0,0.17,0.28],[3.6,0.22,0.44]];
const I_fit = [[0.72,0.225],[1.7,0.295]], I_band = [[0.72,0.13,0.32],[1.7,0.22,0.37]];
const J_fitCereal = [[2.5,0.38],[31,0.465]], J_bandCereal = [[2.5,0.31,0.47],[31,0.245,0.68]];
const J_fitOilseed = [[2.5,0.195],[27.8,0.74]], J_bandOilseed = [[2.5,0.11,0.28],[27.8,0.53,0.94]];
const K_fit = [[0.4,0.34],[3.7,0.41]], K_band = [[0.4,0.28,0.4],[3.7,0.37,0.5]];
const L_fit = [[1.05,0.41],[1.6,0.335]], L_band = [[1.05,0.36,0.46],[1.6,0.28,0.39]];

// ---------- STYLE ----------
const PT = {cereal:'rgba(185,140,95,0.45)', oilseed:'rgba(255,196,0,0.45)', maize:'rgba(255,135,0,0.55)', sunflower:'rgba(245,40,50,0.5)'};
const BLACK = {lc:'#000', w:2.7, dash:[8,5], bc:'rgba(195,195,195,0.22)'};
function T(line, band, lc, w, dash, bc){return {line, band, lc, w, dash, bc};}

const panels = [
 {L:92,T:49,R:382,B:251,xmin:-1.2,xmax:38.1,xt:xTicksA,xl:xLabelsA,pts:{cereal:A_cereal,oilseed:A_oilseed,maize:A_maize,sunflower:A_sunflower},
  trends:[T(A_fitCereal,A_bandCereal,'#c4956a',4,null,'rgba(212,176,140,0.9)'),T(A_fitOilseed,A_bandOilseed,'#ffc000',3.5,null,'rgba(255,200,50,0.85)'),T(A_fitMaize,A_bandMaize,'#ff8c00',3.5,null,'rgba(255,150,30,0.85)'),T(A_fitSunflower,A_bandSunflower,'#ff0000',4,null,'rgba(255,70,35,0.88)')]},
 {L:476,T:49,R:766,B:251,xmin:-0.06,xmax:4.28,xt:xTicksB,xl:xLabelsB,pts:{cereal:B_cereal,oilseed:B_oilseed,maize:B_maize,sunflower:B_sunflower},trends:[T(B_fit,B_band,BLACK.lc,BLACK.w,BLACK.dash,BLACK.bc)]},
 {L:858,T:49,R:1148,B:251,xmin:0.657,xmax:1.794,xt:xTicksC,xl:xLabelsC,pts:{cereal:C_cereal,oilseed:C_oilseed,maize:C_maize,sunflower:C_sunflower},trends:[T(C_fit,C_band,BLACK.lc,BLACK.w,BLACK.dash,BLACK.bc)]},
 {L:92,T:330,R:382,B:531,xmin:-1.03,xmax:36.15,xt:xTicksD,xl:xLabelsD,pts:{cereal:D_cereal,oilseed:D_oilseed,maize:D_maize,sunflower:D_sunflower},
  trends:[T(D_fitCereal,D_bandCereal,'#c4956a',2.2,[7,4],'rgba(215,185,150,0.16)'),T(D_fitMaize,D_bandMaize,'#ff9000',2.2,[7,4],'rgba(255,190,120,0.2)'),T(D_fitSunflower,D_bandSunflower,'#ff0000',3,[7,4],'rgba(255,120,130,0.2)'),T(D_fitOilseed,D_bandOilseed,'#ffc000',4,null,'rgba(255,200,40,0.55)')]},
 {L:476,T:330,R:766,B:531,xmin:0.056,xmax:4.333,xt:xTicksE,xl:xLabelsE,pts:{cereal:E_cereal,oilseed:E_oilseed,maize:E_maize,sunflower:E_sunflower},trends:[T(E_fit,E_band,BLACK.lc,BLACK.w,BLACK.dash,BLACK.bc)]},
 {L:858,T:330,R:1148,B:531,xmin:0.907,xmax:1.763,xt:xTicksF,xl:xLabelsF,pts:{cereal:F_cereal,oilseed:F_oilseed,maize:F_maize,sunflower:F_sunflower},
  trends:[T(F_fitCereal,F_bandCereal,'#b08860',2,[7,4],'rgba(215,185,150,0.2)'),T(F_fitOilseed,F_bandOilseed,'#ffc000',2,[7,4],'rgba(255,220,120,0.2)'),T(F_fitMaize,F_bandMaize,'#ff9900',4,null,'rgba(255,150,20,0.68)'),T(F_fitSunflower,F_bandSunflower,'#ff0000',5,null,'rgba(255,45,45,0.6)')]},
 {L:92,T:608,R:382,B:811,xmin:-2.31,xmax:52.26,xt:xTicksG,xl:xLabelsG,pts:{cereal:G_cereal,oilseed:G_oilseed},trends:[T(G_fit,G_band,BLACK.lc,BLACK.w,BLACK.dash,BLACK.bc)]},
 {L:476,T:608,R:766,B:811,xmin:-0.146,xmax:3.82,xt:xTicksH,xl:xLabelsH,pts:{cereal:H_cereal,oilseed:H_oilseed},trends:[T(H_fit,H_band,BLACK.lc,BLACK.w,BLACK.dash,BLACK.bc)]},
 {L:858,T:608,R:1148,B:811,xmin:0.667,xmax:1.731,xt:xTicksI,xl:xLabelsI,pts:{cereal:I_cereal,oilseed:I_oilseed},trends:[T(I_fit,I_band,BLACK.lc,BLACK.w,BLACK.dash,BLACK.bc)]},
 {L:92,T:888,R:382,B:1091,xmin:1.49,xmax:32.34,xt:xTicksJ,xl:xLabelsJ,pts:{cereal:J_cereal,oilseed:J_oilseed},
  trends:[T(J_fitCereal,J_bandCereal,'#c08a5a',2.2,[7,4],'rgba(225,205,185,0.3)'),T(J_fitOilseed,J_bandOilseed,'#ffc000',4.5,null,'rgba(255,200,40,0.55)')]},
 {L:476,T:888,R:766,B:1091,xmin:0.225,xmax:3.93,xt:xTicksK,xl:xLabelsK,pts:{cereal:K_cereal,oilseed:K_oilseed},trends:[T(K_fit,K_band,BLACK.lc,BLACK.w,BLACK.dash,BLACK.bc)]},
 {L:858,T:888,R:1148,B:1091,xmin:1.029,xmax:1.633,xt:xTicksL,xl:xLabelsL,pts:{cereal:L_cereal,oilseed:L_oilseed},trends:[T(L_fit,L_band,BLACK.lc,BLACK.w,BLACK.dash,BLACK.bc)]}
];

const axisCol = '#383838';
const tickFont = {family:'"DejaVu Sans", sans-serif', size:16};
function xy(arr){return arr.map(p=>({x:p[0], y:p[1]}));}

panels.forEach(p=>{
  const W = p.R - p.L + 82, H = p.B - p.T + 50;
  const c = document.createElement('canvas');
  c.width = W; c.height = H;
  c.style.left = (p.L - 80) + 'px'; c.style.top = (p.T - 10) + 'px';
  c.style.width = W + 'px'; c.style.height = H + 'px';
  document.body.appendChild(c);
  const ds = [];
  ['cereal','oilseed','maize','sunflower'].forEach((k,i)=>{
    if(!p.pts[k]) return;
    ds.push({data:xy(p.pts[k]), showLine:false, pointStyle:'rectRot', pointRadius:4.3, pointBorderWidth:1.8,
      pointBorderColor:PT[k], pointBackgroundColor:'rgba(0,0,0,0)', borderColor:PT[k], backgroundColor:'rgba(0,0,0,0)', order:90-i, clip:false});
  });
  p.trends.forEach((t,i)=>{
    ds.push({data:t.band.map(b=>({x:b[0],y:b[2]})), showLine:true, pointRadius:0, borderColor:'rgba(0,0,0,0)', borderWidth:0, backgroundColor:t.bc, fill:'+1', order:60-i, clip:0});
    ds.push({data:t.band.map(b=>({x:b[0],y:b[1]})), showLine:true, pointRadius:0, borderColor:'rgba(0,0,0,0)', borderWidth:0, backgroundColor:'rgba(0,0,0,0)', fill:false, order:60-i, clip:0});
    ds.push({data:xy(t.line), showLine:true, pointRadius:0, borderColor:t.lc, borderWidth:t.w, borderDash:t.dash||[], borderCapStyle:'butt', fill:false, order:30-i, clip:0});
  });
  new Chart(c, {type:'scatter', data:{datasets:ds},
    options:{responsive:false, animation:false, devicePixelRatio:1, events:[],
      layout:{padding:{top:10,right:2,left:0,bottom:0}},
      plugins:{legend:{display:false}, tooltip:{enabled:false}},
      scales:{
        x:{type:'linear', min:p.xmin, max:p.xmax,
          afterBuildTicks:s=>{s.ticks = p.xt.map(v=>({value:v}));},
          afterFit:s=>{s.height = 40; s.paddingLeft = 0; s.paddingRight = 0;},
          ticks:{callback:(v,i)=>p.xl[i], font:tickFont, color:'#222', padding:6, maxRotation:0, autoSkip:false},
          grid:{display:true, drawOnChartArea:false, drawTicks:true, tickLength:4, color:axisCol, lineWidth:1.3},
          border:{display:true, color:axisCol, width:1.5}},
        y:{type:'linear', min:-0.05, max:1.05,
          afterBuildTicks:s=>{s.ticks = yTicks.map(v=>({value:v}));},
          afterFit:s=>{s.width = 80; s.paddingTop = 0; s.paddingBottom = 0;},
          ticks:{callback:(v,i)=>yTickLabels[i], font:tickFont, color:'#222', padding:2, autoSkip:false},
          grid:{display:true, drawOnChartArea:false, drawTicks:true, tickLength:4, color:axisCol, lineWidth:1.3},
          border:{display:true, color:axisCol, width:1.5}}
      }}});
});

// ---------- TEXT ----------
function txt(cls, s, x, y){const d=document.createElement('div'); d.className='t '+cls; d.textContent=s; d.style.left=x+'px'; d.style.top=y+'px'; d.style.zIndex=3; document.body.appendChild(d);}
const rowTitles = [["Ground-level pests",625,22],["Weed seeds",623,298],["Canopy-level pests",637,579],["Pest eggs",610,860]];
rowTitles.forEach(r=>txt('row', r[0], r[1], r[2]));
const letters = [["A",25,57],["B",403,57],["C",792,57],["D",25,338],["E",407,338],["F",790,338],["G",25,617],["H",409,617],["I",786,617],["J",23,896],["K",406,896],["L",790,896]];
letters.forEach(l=>txt('lab', l[0], l[1], l[2]));
[150,430.5,709.5,989.5].forEach(y=>txt('yt','Predation rate',30,y));
[["Grassland (%)",236,1134],["Woody habitat (%)",618,1134],["Crop diversity",1002,1134]].forEach(a=>txt('xt',a[0],a[1],a[2]));

const legColors = ['#c49a6c','#ffc000','#ff8c00','#ff0000'];
const leg = document.createElement('div'); leg.id='leg';
crops.forEach((name,i)=>{
  const y = 17 + i*21.5;
  const sw = document.createElement('span'); sw.style.top=(y-2)+'px'; sw.style.background=legColors[i]; leg.appendChild(sw);
  const d = document.createElement('div'); d.textContent=name; d.style.top=y+'px'; leg.appendChild(d);
});
document.body.appendChild(leg);
</script>
</body></html>
